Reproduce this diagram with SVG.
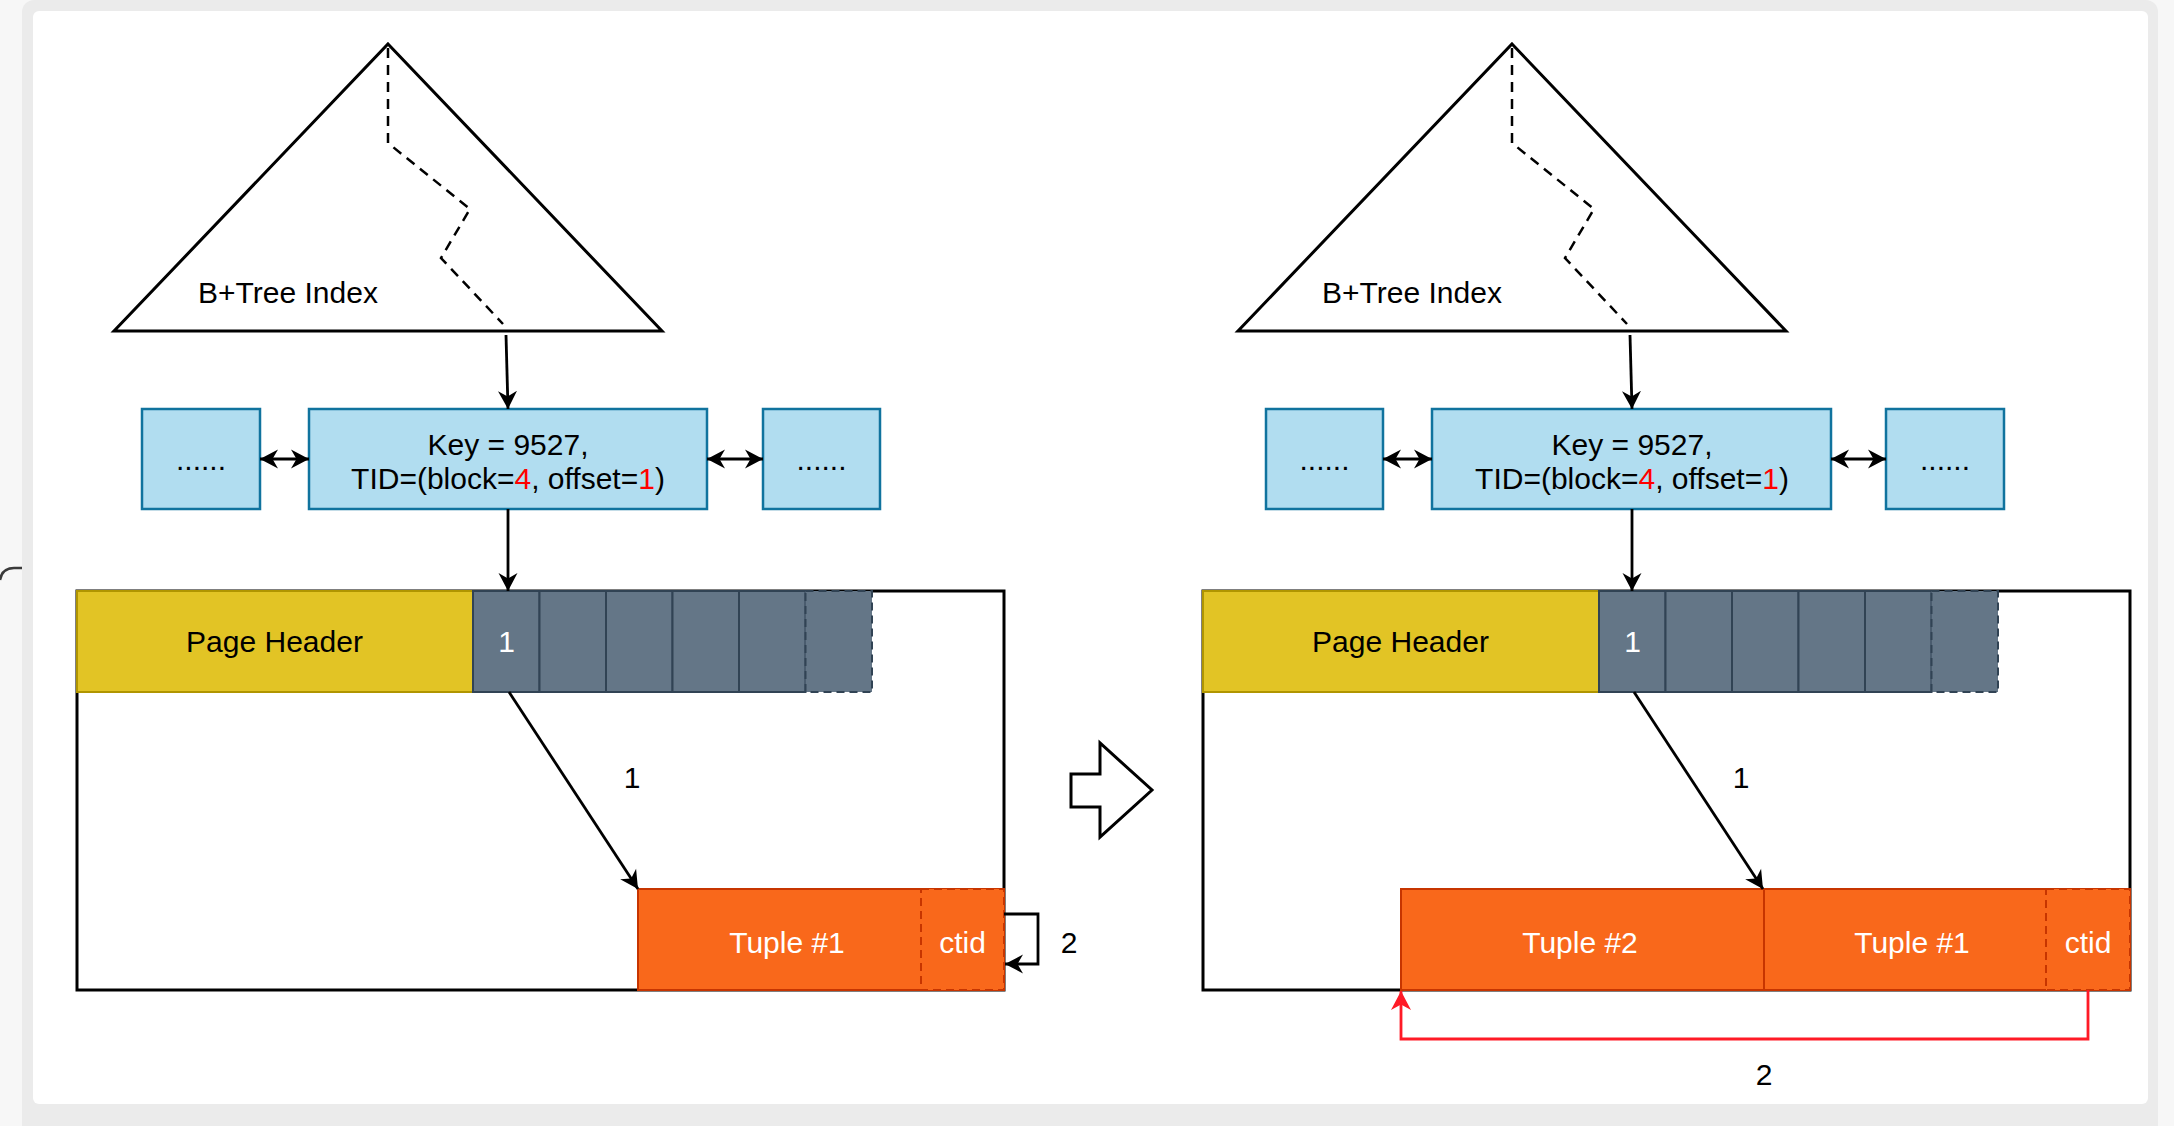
<svg xmlns="http://www.w3.org/2000/svg" width="2174" height="1126" viewBox="0 0 2174 1126">
<style>
  text { font-family: "Comic Sans MS", "Liberation Sans", Arial, sans-serif; font-size: 30px; text-anchor: middle; fill: #000; }
  .w { fill: #fff; }
  .r { fill: #ff0000; }
  .tri { fill: #fff; stroke: #000; stroke-width: 3; stroke-linejoin: miter; }
  .path { fill: none; stroke: #000; stroke-width: 2.5; stroke-dasharray: 10 7; }
  .blue { fill: #b1ddf0; stroke: #10739e; stroke-width: 2.5; }
  .page { fill: none; stroke: #000; stroke-width: 3; }
  .hdr { fill: #e2c425; stroke: #b09500; stroke-width: 2; }
  .slot { fill: #647687; stroke: #314354; stroke-width: 2; }
  .slotd { fill: #647687; stroke: #314354; stroke-width: 2; stroke-dasharray: 8 5; }
  .tup { fill: #f9681b; stroke: #c73500; stroke-width: 2; }
  .ctid { fill: #f9681b; stroke: #c73500; stroke-width: 2; stroke-dasharray: 8 5; }
  .ln { fill: none; stroke: #000; stroke-width: 2.8; }
  .red { fill: none; stroke: #ff1a26; stroke-width: 2.8; }
</style>
<defs>
  <marker id="ah" viewBox="0 0 18 20" refX="18" refY="10" markerWidth="18" markerHeight="20" markerUnits="userSpaceOnUse" orient="auto-start-reverse">
    <path d="M18,10 L0,0.5 L5.5,10 L0,19.5 Z" fill="#000"/>
  </marker>
  <marker id="ahr" viewBox="0 0 19 21" refX="19" refY="10.5" markerWidth="19" markerHeight="21" markerUnits="userSpaceOnUse" orient="auto">
    <path d="M19,10.5 L0,0.5 L5.5,10.5 L0,20.5 Z" fill="#ff1a26"/>
  </marker>
</defs>

<g id="background">
  <rect x="0" y="0" width="2174" height="1126" fill="#f7f7f7"/>
  <rect x="22" y="0" width="2136" height="1150" rx="12" fill="#ebebeb"/>
  <rect x="33" y="11" width="2115" height="1093" rx="6" fill="#ffffff"/>
  <path d="M22,568 L14,568 Q2,568 0,580" fill="none" stroke="#3a3a3a" stroke-width="2.5"/>
</g>

<!-- LEFT SIDE -->
<g id="left-btree">
  <polygon class="tri" points="388,44 662,331 114,331"/>
  <path class="path" d="M388,48 L388,143 L470,209 L441,258 L503,324"/>
  <text x="288" y="303">B+Tree Index</text>
</g>
<g id="left-leaf-prev">
  <rect class="blue" x="142" y="409" width="118" height="100"/>
  <text x="201" y="470">......</text>
</g>
<g id="left-leaf-key">
  <rect class="blue" x="309" y="409" width="398" height="100"/>
  <text x="508" y="455">Key = 9527,</text>
  <text x="508" y="489">TID=(block=<tspan class="r">4</tspan>, offset=<tspan class="r">1</tspan>)</text>
</g>
<g id="left-leaf-next">
  <rect class="blue" x="763" y="409" width="117" height="100"/>
  <text x="821.5" y="470">......</text>
</g>
<g id="left-page">
  <rect class="page" x="77" y="591" width="927" height="399"/>
</g>
<g id="left-page-header">
  <rect class="hdr" x="77" y="591" width="396" height="101"/>
  <text x="274.5" y="652">Page Header</text>
</g>
<g id="left-line-pointers">
  <rect class="slot" x="473" y="591" width="66.5" height="101"/>
  <rect class="slot" x="539.5" y="591" width="66.5" height="101"/>
  <rect class="slot" x="606" y="591" width="66.5" height="101"/>
  <rect class="slot" x="672.5" y="591" width="66.5" height="101"/>
  <rect class="slot" x="739" y="591" width="66.5" height="101"/>
  <rect class="slotd" x="805.5" y="591" width="66.5" height="101"/>
  <text class="w" x="506.5" y="652">1</text>
</g>
<g id="left-tuple1">
  <rect class="tup" x="638" y="889" width="366" height="101"/>
  <rect class="ctid" x="921" y="889" width="83" height="101"/>
  <text class="w" x="787" y="953">Tuple #1</text>
  <text class="w" x="962.5" y="953">ctid</text>
</g>

<!-- RIGHT SIDE -->
<g id="right-btree">
  <polygon class="tri" points="1512,44 1786,331 1238,331"/>
  <path class="path" d="M1512,48 L1512,143 L1594,209 L1565,258 L1627,324"/>
  <text x="1412" y="303">B+Tree Index</text>
</g>
<g id="right-leaf-prev">
  <rect class="blue" x="1266" y="409" width="117" height="100"/>
  <text x="1324.5" y="470">......</text>
</g>
<g id="right-leaf-key">
  <rect class="blue" x="1432" y="409" width="399" height="100"/>
  <text x="1632" y="455">Key = 9527,</text>
  <text x="1632" y="489">TID=(block=<tspan class="r">4</tspan>, offset=<tspan class="r">1</tspan>)</text>
</g>
<g id="right-leaf-next">
  <rect class="blue" x="1886" y="409" width="118" height="100"/>
  <text x="1945" y="470">......</text>
</g>
<g id="right-page">
  <rect class="page" x="1203" y="591" width="927" height="399"/>
</g>
<g id="right-page-header">
  <rect class="hdr" x="1203" y="591" width="396" height="101"/>
  <text x="1400.5" y="652">Page Header</text>
</g>
<g id="right-line-pointers">
  <rect class="slot" x="1599" y="591" width="66.5" height="101"/>
  <rect class="slot" x="1665.5" y="591" width="66.5" height="101"/>
  <rect class="slot" x="1732" y="591" width="66.5" height="101"/>
  <rect class="slot" x="1798.5" y="591" width="66.5" height="101"/>
  <rect class="slot" x="1865" y="591" width="66.5" height="101"/>
  <rect class="slotd" x="1931.5" y="591" width="66.5" height="101"/>
  <text class="w" x="1632.5" y="652">1</text>
</g>
<g id="right-tuple2">
  <rect class="tup" x="1401" y="889" width="363" height="101"/>
  <text class="w" x="1580" y="953">Tuple #2</text>
</g>
<g id="right-tuple1">
  <rect class="tup" x="1764" y="889" width="366" height="101"/>
  <rect class="ctid" x="2046" y="889" width="84" height="101"/>
  <text class="w" x="1912" y="953">Tuple #1</text>
  <text class="w" x="2088" y="953">ctid</text>
</g>

<g id="transition-arrow">
  <polygon points="1071,774 1100,774 1100,743 1152,790 1100,837 1100,807 1071,807" fill="#fff" stroke="#000" stroke-width="3"/>
</g>

<g id="connectors">
  <path class="ln" d="M506,335 L508,409" marker-end="url(#ah)"/>
  <path class="ln" d="M260,459 L309,459" marker-start="url(#ah)" marker-end="url(#ah)"/>
  <path class="ln" d="M707,459 L763,459" marker-start="url(#ah)" marker-end="url(#ah)"/>
  <path class="ln" d="M508,509 L508,591" marker-end="url(#ah)"/>
  <path class="ln" d="M509,692 L638,889" marker-end="url(#ah)"/>
  <path class="ln" d="M1004,914 L1038,914 L1038,964 L1005,964" marker-end="url(#ah)"/>
  <text x="632" y="788">1</text>
  <text x="1069" y="953">2</text>

  <path class="ln" d="M1630,335 L1632,409" marker-end="url(#ah)"/>
  <path class="ln" d="M1383,459 L1432,459" marker-start="url(#ah)" marker-end="url(#ah)"/>
  <path class="ln" d="M1831,459 L1886,459" marker-start="url(#ah)" marker-end="url(#ah)"/>
  <path class="ln" d="M1632,509 L1632,591" marker-end="url(#ah)"/>
  <path class="ln" d="M1634,692 L1763,889" marker-end="url(#ah)"/>
  <path class="red" d="M2088,990 L2088,1039 L1401,1039 L1401,991" marker-end="url(#ahr)"/>
  <text x="1741" y="788">1</text>
  <text x="1764" y="1085">2</text>
</g>
</svg>
